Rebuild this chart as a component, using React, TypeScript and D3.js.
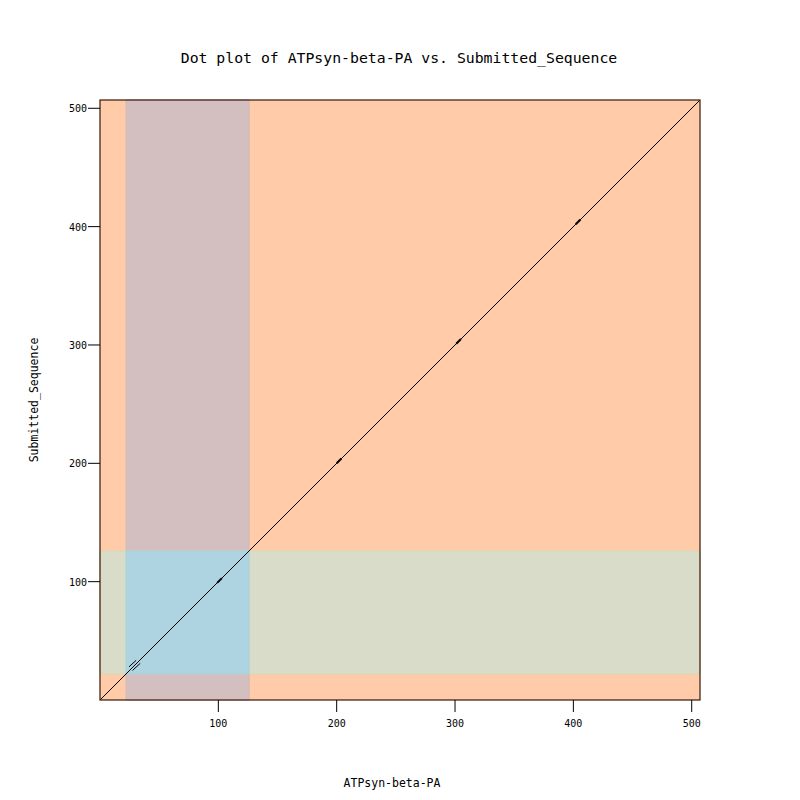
import React from "react";
import * as d3 from "d3";

const title = "Dot plot of ATPsyn-beta-PA vs. Submitted_Sequence";
const xLabel = "ATPsyn-beta-PA";
const yLabel = "Submitted_Sequence";
const seqLenX = 507;
const seqLenY = 507;
const ticks = [100, 200, 300, 400, 500];
const domainStart = 22;
const domainEnd = 126;
// main diagonal match
const diagonal = [[0, 0], [507, 507]];
// small repeat segments
const repeats = [
  [[24.5, 28], [30.5, 33.5]],
  [[27.5, 25], [34, 31]],
];
// small thick marks on the diagonal
const marks = [101, 202, 303, 404];

export default function App() {
  const L = 100, R = 700, T = 100, B = 700;
  const x = d3.scaleLinear().domain([0, seqLenX]).range([L, R]);
  const y = d3.scaleLinear().domain([0, seqLenY]).range([B, T]);
  const font = "'DejaVu Sans Mono', monospace";
  const x0 = x(domainStart), x1 = x(domainEnd);
  const y0 = y(domainEnd), y1 = y(domainStart);
  return (
    <svg width={800} height={800} style={{ position: "absolute", left: 0, top: 0 }}>
      <rect width={800} height={800} fill="#ffffff" />
      <text x={399} y={63} textAnchor="middle" fontFamily={font} fontSize={14.8} fill="#000">{title}</text>
      <rect x={L} y={T} width={R - L} height={B - T} fill="#ffcba9" />
      {/* vertical band */}
      <rect x={x0} y={T} width={x1 - x0} height={B - T} fill="#d4bfc0" stroke="#d0b8b8" strokeWidth={1} />
      {/* horizontal band */}
      <rect x={L} y={y0} width={R - L} height={y1 - y0} fill="#dadcca" stroke="#d6d8b8" strokeWidth={1} />
      {/* intersection */}
      <rect x={x0} y={y0} width={x1 - x0} height={y1 - y0} fill="#aed4e2" stroke="#a8cfd6" strokeWidth={1} />
      <line x1={x(diagonal[0][0])} y1={y(diagonal[0][1])} x2={x(diagonal[1][0])} y2={y(diagonal[1][1])} stroke="#000" strokeWidth={1} />
      {repeats.map((s, i) => (
        <line key={i} x1={x(s[0][0])} y1={y(s[0][1])} x2={x(s[1][0])} y2={y(s[1][1])} stroke="#000" strokeWidth={1} />
      ))}
      {marks.map((m, i) => (
        <line key={i} x1={x(m - 2)} y1={y(m - 2)} x2={x(m + 2)} y2={y(m + 2)} stroke="#000" strokeWidth={2} />
      ))}
      <rect x={L} y={T} width={R - L} height={B - T} fill="none" stroke="#3a1606" strokeWidth={1.2} />
      {ticks.map((t) => (
        <g key={"x" + t}>
          <line x1={x(t)} x2={x(t)} y1={B} y2={B + 12} stroke="#000" />
          <text x={x(t)} y={B + 27} textAnchor="middle" fontFamily={font} fontSize={10} fill="#000">{t}</text>
        </g>
      ))}
      {ticks.map((t) => (
        <g key={"y" + t}>
          <line x1={L - 12} x2={L} y1={y(t)} y2={y(t)} stroke="#000" />
          <text x={L - 13} y={y(t) + 4} textAnchor="end" fontFamily={font} fontSize={10} fill="#000">{t}</text>
        </g>
      ))}
      <text x={392} y={787} textAnchor="middle" fontFamily={font} fontSize={11.5} fill="#000">{xLabel}</text>
      <text transform="translate(38,400) rotate(-90)" textAnchor="middle" fontFamily={font} fontSize={11.5} fill="#000">{yLabel}</text>
    </svg>
  );
}
